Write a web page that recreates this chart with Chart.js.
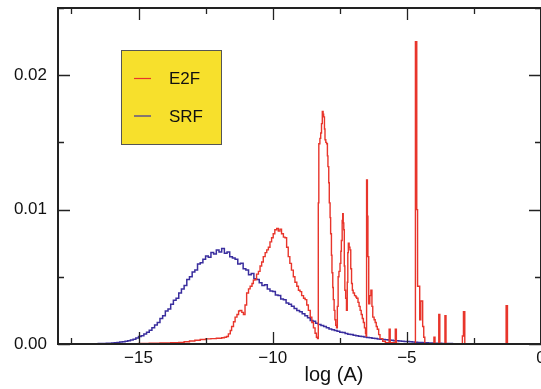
<!DOCTYPE html>
<html lang="en">
  <head>
    <meta charset="UTF-8" />
    <title>E2F / SRF log(A)</title>
    <script src="https://cdn.jsdelivr.net/npm/chart.js"></script>
    <style>
      html, body { margin: 0; padding: 0; background: #fff; overflow: hidden; }
      #grafico { display: block; }
    </style>
  </head>
  <body>
    <canvas id="grafico" width="541" height="389"></canvas>

    <script>
      // SRF histogram: bins of 0.1 starting at -17, values in thousandths
      const srfBinStart = -17.0;
      const srfBinWidth = 0.1;
      const srfValues = [
        0, 0, 0.01, 0.01, 0.02, 0.03, 0.03, 0.04, 0.05, 0.06,
        0.08, 0.09, 0.12, 0.14, 0.17, 0.2, 0.24, 0.3, 0.36, 0.45,
        0.55, 0.62, 0.75, 0.88, 1.02, 1.2, 1.42, 1.6, 1.9, 2.1,
        2.45, 2.6, 2.95, 3.25, 3.4, 3.8, 4.1, 4.35, 4.8, 5.0,
        5.35, 5.5, 5.95, 6.05, 6.3, 6.55, 6.45, 6.8, 6.7, 7.0,
        6.85, 7.1, 6.75, 6.85, 6.5, 6.4, 6.3, 5.95, 6.0, 5.6,
        5.5, 5.15, 5.25, 4.85, 4.8, 4.55, 4.35, 4.4, 4.1, 3.95,
        3.9, 3.65, 3.6, 3.35, 3.3, 3.05, 2.95, 2.8, 2.65, 2.5,
        2.4, 2.25, 2.1, 1.95, 1.75, 1.7, 1.55, 1.45, 1.38, 1.3,
        1.2, 1.12, 1.06, 1.0, 0.95, 0.88, 0.85, 0.78, 0.72, 0.7,
        0.65, 0.62, 0.58, 0.55, 0.52, 0.48, 0.46, 0.43, 0.4, 0.37,
        0.35, 0.33, 0.31, 0.29, 0.27, 0.25, 0.24, 0.22, 0.21, 0.19,
        0.18, 0.16, 0.15, 0.13, 0.12, 0.11, 0.1, 0.09, 0.08, 0.07,
        0.06, 0.05, 0.05, 0.04, 0.04, 0.03, 0.03, 0.02, 0.02, 0.01,
        0.01, 0, 0
      ];

      // E2F histogram: left edge of each step and its height (thousandths)
      const e2fEdges = [
        -16.0, -15.5, -15.0, -14.6, -14.2, -13.8, -13.5, -13.3, -13.1, -12.9,
        -12.7, -12.5, -12.3, -12.1, -11.9, -11.8, -11.72, -11.65, -11.58, -11.53,
        -11.46, -11.40, -11.33, -11.27, -11.22, -11.15, -11.09, -11.03, -10.97, -10.90,
        -10.84, -10.77, -10.72, -10.66, -10.60, -10.53, -10.47, -10.41, -10.35, -10.28,
        -10.22, -10.16, -10.10, -10.04, -9.98, -9.92, -9.85, -9.79, -9.73, -9.67,
        -9.60, -9.54, -9.48, -9.42, -9.36, -9.30, -9.23, -9.17, -9.10, -9.04,
        -8.98, -8.92, -8.85, -8.79, -8.73, -8.67, -8.60, -8.54, -8.48, -8.42,
        -8.37, -8.33, -8.30, -8.28, -8.24, -8.21, -8.18, -8.15, -8.12, -8.10,
        -8.07, -8.05, -8.02, -7.99, -7.96, -7.94, -7.91, -7.89, -7.86, -7.84,
        -7.81, -7.79, -7.76, -7.74, -7.71, -7.68, -7.65, -7.62, -7.59, -7.56,
        -7.53, -7.49, -7.46, -7.44, -7.41, -7.39, -7.37, -7.35, -7.33, -7.31,
        -7.28, -7.25, -7.22, -7.20, -7.18, -7.15, -7.12, -7.09, -7.06, -7.03,
        -7.00, -6.95, -6.90, -6.87, -6.82, -6.78, -6.74, -6.70, -6.66, -6.62,
        -6.58, -6.54, -6.52, -6.50, -6.47, -6.45, -6.42, -6.38, -6.34, -6.30,
        -6.27, -6.22, -6.18, -6.14, -6.10, -6.05, -6.00, -5.90, -5.80, -5.66,
        -5.62, -5.43, -5.39, -5.30, -4.68, -4.63, -4.60, -4.52, -4.48, -4.41,
        -4.37, -4.33, -3.99, -3.95, -3.81, -3.77, -3.58, -3.54, -2.93, -2.89,
        -2.84, -1.30, -1.25, -0.5
      ];
      const e2fValues = [
        0, 0.02, 0.04, 0.06, 0.08, 0.1, 0.12, 0.17, 0.22, 0.28,
        0.33, 0.38, 0.4, 0.43, 0.46, 0.5, 0.56, 0.75, 1.0, 1.3,
        1.65, 2.0, 2.2, 2.45, 2.5, 2.35, 2.2, 2.9, 3.8, 4.1,
        4.3, 4.5, 4.75, 4.8, 5.2, 5.4, 5.8, 6.1, 6.5, 6.8,
        7.0, 7.2, 7.6, 7.9, 8.2, 8.5, 8.6, 8.4, 8.55, 8.2,
        7.95, 7.9, 7.2, 6.5, 6.0, 5.5, 5.0, 4.6, 4.3, 4.0,
        3.9, 3.6, 3.4, 3.3, 2.9, 2.5, 2.0, 1.6, 1.2, 0.8,
        0.5, 0.4, 10.5, 14.9, 15.3, 15.7, 16.4, 17.3, 17.1, 16.9,
        16.0, 15.2, 15.0, 14.9, 14.0, 13.2, 12.0, 10.5, 9.4, 8.2,
        6.6, 5.3, 4.2, 3.3, 2.5, 1.8, 1.4, 1.2, 2.8, 5.0,
        5.4, 6.0, 6.9, 7.7, 9.2, 9.7, 9.0, 8.5, 5.8, 4.0,
        3.4, 2.5, 4.6, 6.8, 7.5, 7.2, 7.0, 5.6, 4.5, 4.0,
        3.8, 3.6, 3.5, 3.4, 3.1, 2.8, 2.5, 2.2, 1.9, 1.6,
        1.2, 0.8, 0.6, 12.2, 9.5, 6.5, 3.0, 3.6, 4.0, 2.8,
        2.0, 1.8, 1.6, 1.3, 1.1, 0.7, 0.4, 0.2, 0.1, 1.1,
        0.1, 1.1, 0.05, 0, 22.5, 10.0, 4.3, 1.8, 3.2, 1.3,
        0.5, 0, 0.5, 0, 2.2, 0, 2.1, 0, 0.6, 2.4,
        0, 2.85, 0, 0
      ];

      const seriesNames = ["E2F", "SRF"];
      const seriesColors = ["#e8352b", "#3a2e9e"];

      const xTicks = [-17.5, -15, -12.5, -10, -7.5, -5, -2.5, 0];
      const xLabelled = [-15, -10, -5, 0];
      const yTicks = [0, 0.005, 0.01, 0.015, 0.02, 0.025];
      const yLabelled = [0, 0.01, 0.02];

      const srfPontos = srfValues.map((v, i) => ({ x: srfBinStart + i * srfBinWidth, y: v / 1000 }));
      const e2fPontos = e2fEdges.map((x, i) => ({ x: x, y: e2fValues[i] / 1000 }));

      Chart.defaults.font.family = "'Liberation Sans', Arial, sans-serif";
      Chart.defaults.color = "#111";

      // frame, inward ticks on all four sides, axis title and the legend box
      const moldura = {
        id: "moldura",
        afterDraw(chart) {
          const ctx = chart.ctx;
          const a = chart.chartArea;
          const sx = chart.scales.x;
          const sy = chart.scales.y;
          ctx.save();
          ctx.strokeStyle = "#222";
          ctx.lineWidth = 1.3;
          xTicks.forEach(function (v) {
            const px = Math.round(sx.getPixelForValue(v)) + 0.5;
            const len = xLabelled.includes(v) ? 12 : 6;
            ctx.beginPath();
            ctx.moveTo(px, a.bottom); ctx.lineTo(px, a.bottom - len);
            ctx.moveTo(px, a.top); ctx.lineTo(px, a.top + len);
            ctx.stroke();
          });
          yTicks.forEach(function (v) {
            const py = Math.round(sy.getPixelForValue(v)) + 0.5;
            const len = yLabelled.includes(v) ? 12 : 6;
            ctx.beginPath();
            ctx.moveTo(a.left, py); ctx.lineTo(a.left + len, py);
            ctx.moveTo(a.right, py); ctx.lineTo(a.right - len, py);
            ctx.stroke();
          });
          ctx.lineWidth = 2;
          ctx.strokeStyle = "#222";
          ctx.strokeRect(a.left, a.top, a.right - a.left, a.bottom - a.top);

          // axis title
          ctx.fillStyle = "#111";
          ctx.font = "20px 'Liberation Sans', Arial, sans-serif";
          ctx.textAlign = "center";
          ctx.textBaseline = "alphabetic";
          ctx.fillText("log (A)", 334, 381);

          // legend
          ctx.fillStyle = "#f7e02c";
          ctx.fillRect(121, 50, 101, 95);
          ctx.strokeStyle = "#555";
          ctx.lineWidth = 1;
          ctx.strokeRect(121.5, 50.5, 100, 94);
          ctx.font = "17px 'Liberation Sans', Arial, sans-serif";
          ctx.textAlign = "left";
          ctx.textBaseline = "middle";
          chart.data.datasets.forEach(function (ds, i) {
            const ly = 78.5 + i * 37.5;
            ctx.strokeStyle = ds.borderColor;
            ctx.lineWidth = 1.2;
            ctx.beginPath();
            ctx.moveTo(134, ly); ctx.lineTo(151, ly);
            ctx.stroke();
            ctx.fillStyle = "#111";
            ctx.fillText(ds.label, 169, ly + 1);
          });
          ctx.restore();
        },
      };

      const config = {
        type: "line",
        data: {
          datasets: [
            {
              label: seriesNames[0],
              data: e2fPontos,
              borderColor: seriesColors[0],
              borderWidth: 1.4,
              stepped: true,
              pointRadius: 0,
              fill: false,
            },
            {
              label: seriesNames[1],
              data: srfPontos,
              borderColor: seriesColors[1],
              borderWidth: 1.5,
              stepped: true,
              pointRadius: 0,
              fill: false,
            },
          ],
        },
        options: {
          responsive: false,
          animation: false,
          devicePixelRatio: 1,
          layout: { padding: { top: 8, left: 0, right: 0, bottom: 0 } },
          plugins: {
            legend: { display: false },
            tooltip: { enabled: false },
          },
          scales: {
            x: {
              type: "linear",
              min: -18,
              max: 0,
              grid: { display: false, drawTicks: false },
              border: { display: false },
              afterBuildTicks: function (scale) {
                scale.ticks = xTicks.map((v) => ({ value: v }));
              },
              afterFit: function (scale) {
                scale.height = 45;
                scale.paddingLeft = 0;
                scale.paddingRight = 0;
              },
              ticks: {
                autoSkip: false,
                maxRotation: 0,
                padding: 4,
                font: { size: 17 },
                color: "#111",
                callback: function (v) {
                  if (!xLabelled.includes(v)) return "";
                  return v < 0 ? "\u2212" + Math.abs(v) : String(v);
                },
              },
            },
            y: {
              min: 0,
              max: 0.025,
              grid: { display: false, drawTicks: false },
              border: { display: false },
              afterBuildTicks: function (scale) {
                scale.ticks = yTicks.map((v) => ({ value: v }));
              },
              afterFit: function (scale) {
                scale.width = 58;
                scale.paddingTop = 0;
                scale.paddingBottom = 0;
              },
              ticks: {
                autoSkip: false,
                padding: 11,
                font: { size: 17 },
                color: "#111",
                callback: function (v) {
                  return yLabelled.includes(v) ? v.toFixed(2) : "";
                },
              },
            },
          },
        },
        plugins: [moldura],
      };

      new Chart(document.getElementById("grafico"), config);
    </script>
  </body>
</html>
